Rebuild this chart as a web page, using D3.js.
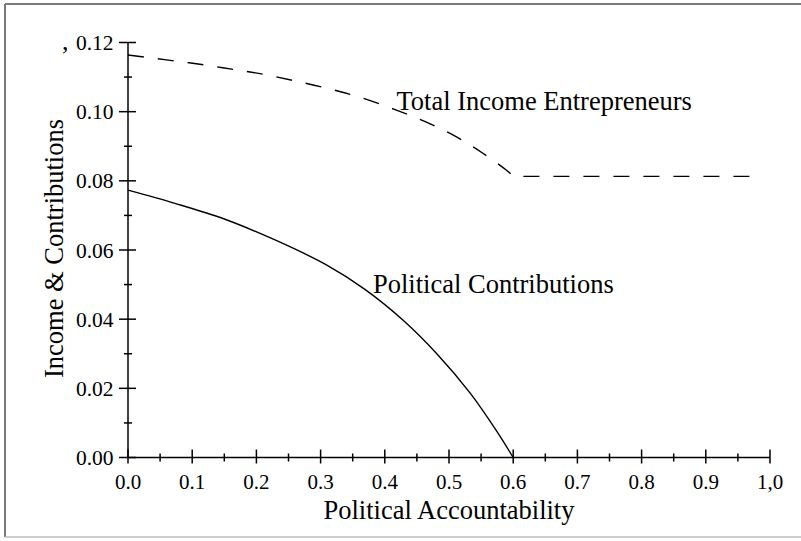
<!DOCTYPE html>
<html>
<head>
<meta charset="utf-8">
<script src="https://cdn.jsdelivr.net/npm/d3@7"></script>
<style>
html, body { margin: 0; padding: 0; background: #fff; }
svg { display: block; }
text { font-family: "Liberation Serif", "Times New Roman", serif; fill: #000; }
</style>
</head>
<body>
<svg id="chart" width="801" height="541"></svg>
<script>
// ---- data ----
const xTickValues = [0, 0.1, 0.2, 0.3, 0.4, 0.5, 0.6, 0.7, 0.8, 0.9, 1.0];
const xTickLabels = ["0.0", "0.1", "0.2", "0.3", "0.4", "0.5", "0.6", "0.7", "0.8", "0.9", "1,0"];
const xMinorTicks = [0.05, 0.15, 0.25, 0.35, 0.45, 0.55, 0.65, 0.75, 0.85, 0.95];
const yTickValues = [0, 0.02, 0.04, 0.06, 0.08, 0.10, 0.12];
const yTickLabels = ["0.00", "0.02", "0.04", "0.06", "0.08", "0.10", "0.12"];
const yMinorTicks = [0.01, 0.03, 0.05, 0.07, 0.09, 0.11];

// curved part of total income (up to the kink at 0.6), then flat part
const incomeX = [0, 0.063, 0.112, 0.1615, 0.211, 0.26, 0.3095, 0.359, 0.416, 0.463, 0.506, 0.551, 0.592, 0.6];
const incomeY = [0.1164, 0.1149, 0.1137, 0.1123, 0.1108, 0.1089, 0.1068, 0.1043, 0.1006, 0.0971, 0.0933, 0.0882, 0.0827, 0.0813];
const incomeFlatX = [0.6, 0.977];
const incomeFlatY = [0.0813, 0.0813];
const contribX = [0, 0.073, 0.151, 0.229, 0.307, 0.369, 0.429, 0.481, 0.533, 0.574, 0.6];
const contribY = [0.0773, 0.0735, 0.0689, 0.0629, 0.0559, 0.0486, 0.0396, 0.0300, 0.0186, 0.0077, 0];

const xTitle = "Political Accountability";
const yTitle = "Income & Contributions";
const incomeLabel = "Total Income Entrepreneurs";
const contribLabel = "Political Contributions";

// ---- drawing ----
const svg = d3.select("#chart");
const x = d3.scaleLinear().domain([0, 1]).range([128, 770]);
const y = d3.scaleLinear().domain([0, 0.12]).range([457.5, 42.5]);

// frame
svg.append("line").attr("x1", 5).attr("y1", 4).attr("x2", 5).attr("y2", 537)
  .attr("stroke", "#7a7a7a").attr("stroke-width", 2);
svg.append("line").attr("x1", 5).attr("y1", 4).attr("x2", 801).attr("y2", 4)
  .attr("stroke", "#7a7a7a").attr("stroke-width", 2);
svg.append("line").attr("x1", 5).attr("y1", 537).attr("x2", 801).attr("y2", 537)
  .attr("stroke", "#bdbdbd").attr("stroke-width", 1.5);

const ax = svg.append("g").attr("stroke", "#000").attr("stroke-width", 1.5);
// axis lines
ax.append("line").attr("x1", x(0)).attr("x2", x(1)).attr("y1", y(0)).attr("y2", y(0));
ax.append("line").attr("x1", x(0)).attr("x2", x(0)).attr("y1", y(0)).attr("y2", y(0.12));

// x ticks
ax.selectAll(".xmaj").data(xTickValues).join("line")
  .attr("class", "xmaj")
  .attr("x1", d => x(d)).attr("x2", d => x(d))
  .attr("y1", y(0) - 8).attr("y2", y(0) + 6);
ax.selectAll(".xmin").data(xMinorTicks).join("line")
  .attr("class", "xmin")
  .attr("x1", d => x(d)).attr("x2", d => x(d))
  .attr("y1", y(0) - 4).attr("y2", y(0) + 4);
// y ticks
ax.selectAll(".ymaj").data(yTickValues).join("line")
  .attr("class", "ymaj")
  .attr("x1", x(0) - 9).attr("x2", x(0) + 8)
  .attr("y1", d => y(d)).attr("y2", d => y(d));
ax.selectAll(".ymin").data(yMinorTicks).join("line")
  .attr("class", "ymin")
  .attr("x1", x(0) - 4).attr("x2", x(0) + 4)
  .attr("y1", d => y(d)).attr("y2", d => y(d));

// tick labels
svg.selectAll(".xl").data(xTickValues).join("text")
  .attr("class", "xl")
  .attr("x", d => x(d)).attr("y", 489)
  .attr("text-anchor", "middle").attr("font-size", 21)
  .text((d, i) => xTickLabels[i]);
svg.selectAll(".yl").data(yTickValues).join("text")
  .attr("class", "yl")
  .attr("x", 113.5).attr("y", d => y(d) + 7.5)
  .attr("text-anchor", "end").attr("font-size", 21.5)
  .text((d, i) => yTickLabels[i]);

// stray mark near top of y axis
svg.append("text").attr("x", 62).attr("y", 50).attr("font-size", 26).text(",");

// axis titles
svg.append("text").attr("x", 449).attr("y", 519)
  .attr("text-anchor", "middle").attr("font-size", 26.5).text(xTitle);
svg.append("text").attr("transform", "translate(63,248.5) rotate(-90)")
  .attr("text-anchor", "middle").attr("font-size", 26.5).text(yTitle);

// series
const income = incomeX.map((v, i) => [v, incomeY[i]]);
const incomeFlat = incomeFlatX.map((v, i) => [v, incomeFlatY[i]]);
const contrib = contribX.map((v, i) => [v, contribY[i]]);

const smooth = d3.line().x(d => x(d[0])).y(d => y(d[1])).curve(d3.curveCatmullRom.alpha(0.5));
const straight = d3.line().x(d => x(d[0])).y(d => y(d[1]));
// join curved and flat parts into one path so the dash pattern is continuous
const incomePath = smooth(income) + straight(incomeFlat).replace(/^M/, "L");

svg.append("path")
  .attr("d", incomePath)
  .attr("fill", "none").attr("stroke", "#000").attr("stroke-width", 1.4)
  .attr("stroke-dasharray", "16,14");
svg.append("path")
  .attr("d", smooth(contrib))
  .attr("fill", "none").attr("stroke", "#000").attr("stroke-width", 1.4);

// curve labels
svg.append("text").attr("x", 396.5).attr("y", 110).attr("font-size", 26.5).text(incomeLabel);
svg.append("text").attr("x", 373).attr("y", 293).attr("font-size", 26.5).text(contribLabel);
</script>
</body>
</html>
